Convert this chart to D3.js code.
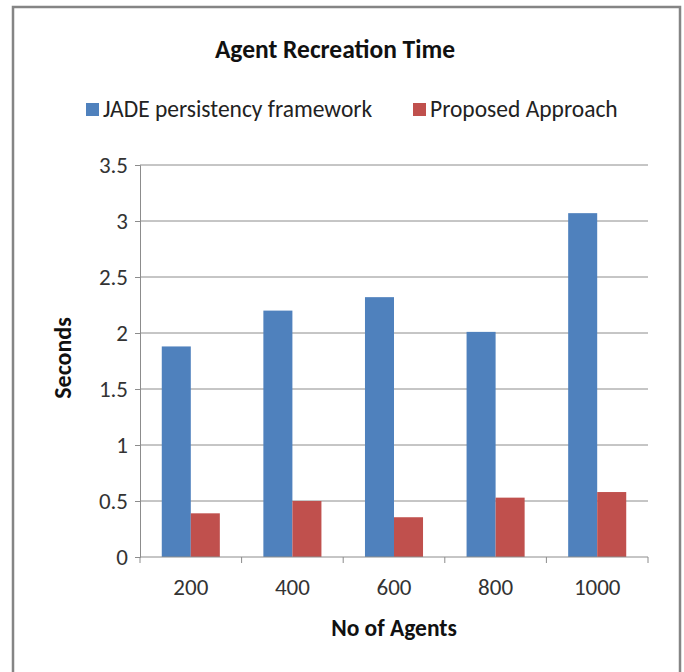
<!DOCTYPE html>
<html>
<head>
<meta charset="utf-8">
<script src="https://cdn.jsdelivr.net/npm/d3@7"></script>
<style>
body{margin:0;background:#fff}
text{font-family:Carlito,Calibri,Lato,sans-serif}
</style>
</head>
<body>
<div id="graph"></div>
<script>
"use strict"
var categories=['200','400','600','800','1000']
var seriesNames=['JADE persistency framework','Proposed Approach']
var jade=[1.88,2.2,2.32,2.01,3.07]
var proposed=[0.39,0.5,0.355,0.53,0.58]
var yTicks=[0,0.5,1,1.5,2,2.5,3,3.5]
var colors=['#4f81bd','#c0504d']

var W=684,H=672
var m={left:140,right:36,top:165,bottom:115}
var svg=d3.select('#graph').append('svg').attr('width',W).attr('height',H)

// outer chart border
svg.append('rect').attr('x',13).attr('y',7).attr('width',667).attr('height',680)
  .attr('fill','#fff').attr('stroke','#858585').attr('stroke-width',2.5)

var x=d3.scaleBand().domain(categories).range([m.left,W-m.right])
var inner=d3.scaleBand().domain([0,1]).range([0,x.bandwidth()]).paddingOuter(0.75)
var y=d3.scaleLinear().domain([0,3.5]).range([H-m.bottom,m.top])

// gridlines
svg.append('g').selectAll('line').data(yTicks.slice(1)).join('line')
  .attr('x1',m.left).attr('x2',W-m.right).attr('y1',d=>y(d)).attr('y2',d=>y(d))
  .attr('stroke','#8c8c8c').attr('stroke-width',1)

// bars
var rows=categories.map((c,i)=>({c:c,v:[jade[i],proposed[i]]}))
var grp=svg.append('g').selectAll('g').data(rows).join('g')
  .attr('transform',d=>'translate('+x(d.c)+',0)')
grp.selectAll('rect').data(d=>d.v).join('rect')
  .attr('x',(d,i)=>inner(i)).attr('width',inner.bandwidth())
  .attr('y',d=>y(d)).attr('height',d=>y(0)-y(d))
  .attr('fill',(d,i)=>colors[i])

// y axis
var ya=svg.append('g').attr('transform','translate('+m.left+',0)')
  .call(d3.axisLeft(y).tickValues(yTicks).tickSize(5).tickPadding(7).tickFormat(d3.format('')))
ya.select('.domain').attr('stroke','#8c8c8c')
ya.selectAll('.tick line').attr('stroke','#8c8c8c')
ya.selectAll('text').attr('font-size',23).attr('fill','#333').attr('font-family',null).attr('dy','0.34em')

// x axis
var xa=svg.append('g').attr('transform','translate(0,'+y(0)+')')
  .call(d3.axisBottom(x).tickSize(0).tickPadding(22))
xa.select('.domain').attr('stroke','#8c8c8c').attr('d','M'+m.left+',0H'+(W-m.right))
xa.selectAll('text').attr('font-size',23).attr('fill','#333').attr('font-family',null)
xa.selectAll('.sep').data(d3.range(categories.length+1)).join('line').attr('class','sep')
  .attr('x1',i=>m.left+i*x.step()).attr('x2',i=>m.left+i*x.step())
  .attr('y1',0).attr('y2',6).attr('stroke','#8c8c8c')

// titles
svg.append('text').attr('x',335).attr('y',58).attr('text-anchor','middle')
  .attr('font-size',25.5).attr('font-weight','bold').attr('fill','#111').text('Agent Recreation Time')
svg.append('text').attr('x',394).attr('y',636).attr('text-anchor','middle')
  .attr('font-size',23.5).attr('font-weight','bold').attr('fill','#111').text('No of Agents')
svg.append('text').attr('transform','translate(71,358)rotate(-90)').attr('text-anchor','middle')
  .attr('font-size',24).attr('font-weight','bold').attr('fill','#111').text('Seconds')

// legend
var legX=[86,413]
var lg=svg.append('g').selectAll('g').data(seriesNames).join('g')
  .attr('transform',(d,i)=>'translate('+legX[i]+',103)')
lg.append('rect').attr('width',13).attr('height',13).attr('fill',(d,i)=>colors[i])
lg.append('text').attr('x',17).attr('y',14).attr('font-size',23.5).attr('fill','#222').text(d=>d)
</script>
</body>
</html>
